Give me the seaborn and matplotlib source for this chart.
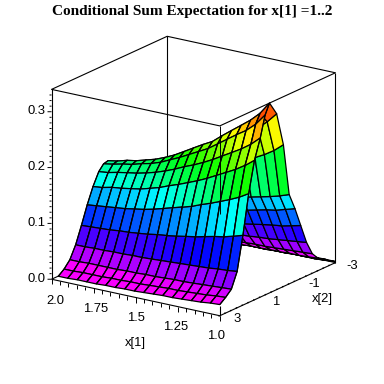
import numpy as np
import matplotlib
matplotlib.use("Agg")
import matplotlib.pyplot as plt
from mpl_toolkits.mplot3d import proj3d
import seaborn as sns

# grid
x1_vals = [1.0, 1.056, 1.113, 1.169, 1.226, 1.282, 1.339, 1.395, 1.452,
           1.508, 1.565, 1.621, 1.678, 1.734, 1.791, 1.847, 1.904, 1.96]
x2_vals = [3.0, 2.7, 2.4, 2.1, 1.8, 1.5, 1.2, 0.9, 0.65, 0.42, 0.05,
           -0.3, -0.6, -0.9, -1.2, -1.5, -1.8, -2.1, -2.4, -2.7, -3.0]

# one row per x[1] value, one column per x[2] value
z_rows = [
    [.020, .028, .038, .065, .125, .195, .250, .285, .322, .340, .315, .254, .160, .130, .095, .060, .035, .022, .014, .008, .002],
    [.019, .027, .037, .063, .120, .185, .237, .270, .302, .318, .297, .240, .154, .125, .091, .058, .034, .021, .013, .008, .002],
    [.017, .025, .036, .062, .115, .177, .226, .258, .287, .302, .282, .229, .149, .120, .087, .056, .033, .020, .013, .007, .002],
    [.016, .024, .035, .060, .112, .170, .217, .248, .276, .289, .270, .220, .145, .117, .085, .054, .032, .020, .013, .007, .002],
    [.015, .023, .034, .059, .108, .163, .208, .238, .264, .276, .258, .211, .141, .113, .082, .052, .031, .019, .012, .007, .002],
    [.014, .022, .033, .058, .104, .157, .199, .228, .252, .263, .246, .202, .137, .109, .079, .051, .030, .019, .012, .007, .002],
    [.014, .022, .033, .057, .101, .150, .191, .219, .240, .249, .234, .192, .133, .106, .076, .049, .030, .018, .011, .006, .001],
    [.013, .021, .032, .056, .098, .145, .184, .211, .231, .240, .225, .186, .130, .103, .074, .048, .029, .018, .011, .006, .001],
    [.012, .020, .031, .055, .095, .140, .177, .204, .222, .230, .216, .179, .127, .100, .072, .047, .028, .017, .011, .006, .001],
    [.011, .019, .031, .054, .093, .135, .171, .196, .213, .220, .207, .172, .124, .098, .070, .046, .028, .017, .010, .006, .001],
    [.011, .019, .030, .053, .090, .130, .164, .189, .205, .210, .198, .165, .121, .095, .068, .044, .027, .017, .010, .006, .001],
    [.010, .018, .030, .053, .088, .126, .159, .183, .197, .202, .191, .159, .119, .093, .066, .043, .027, .016, .010, .005, .001],
    [.010, .018, .029, .052, .086, .123, .154, .178, .191, .195, .185, .155, .117, .091, .065, .043, .026, .016, .010, .005, .001],
    [.009, .017, .029, .052, .085, .120, .151, .174, .187, .190, .180, .151, .115, .090, .064, .042, .026, .016, .010, .005, .001],
    [.009, .017, .029, .051, .083, .118, .148, .171, .182, .185, .176, .148, .114, .088, .062, .041, .026, .015, .009, .005, .001],
    [.009, .017, .029, .051, .082, .116, .146, .168, .179, .182, .173, .146, .113, .087, .062, .041, .026, .015, .009, .005, .001],
    [.008, .016, .028, .050, .081, .114, .142, .164, .175, .177, .168, .142, .111, .086, .061, .040, .025, .015, .009, .005, .001],
    [.008, .016, .028, .050, .080, .112, .140, .162, .172, .174, .165, .140, .110, .085, .060, .040, .025, .015, .009, .005, .001],
]

x1_labels = ["1.0", "1.25", "1.5", "1.75", "2.0"]
x1_label_vals = [1.0, 1.25, 1.5, 1.75, 2.0]
x2_labels = ["3", "1", "-1", "-3"]
x2_label_vals = [3, 1, -1, -3]
z_labels = ["0.0", "0.1", "0.2", "0.3"]
z_label_vals = [0.0, 0.1, 0.2, 0.3]

x1_lo, x1_hi = 1.0, 2.0
x2_lo, x2_hi = -3.0, 3.0
z_lo, z_hi = 0.0, 0.34

sns.set_theme(style="white")
plt.rcParams["font.family"] = ["Liberation Sans", "DejaVu Sans"]

fig = plt.figure(figsize=(3.84, 3.84), dpi=100)
ax = fig.add_axes([-3.7 / 384, 10.8 / 384, 1, 1], projection="3d", computed_zorder=False)
ax.set_proj_type("ortho")
ax.view_init(elev=18.4, azim=124.5)
ax.set_box_aspect((1, 1, 0.98), zoom=0.888)
ax.set_xlim(x1_lo, x1_hi)
ax.set_ylim(x2_lo, x2_hi)
ax.set_zlim(z_lo, z_hi)
ax.set_axis_off()
ax.patch.set_alpha(0)


def line(xs, ys, zs, zo=3, lw=0.8):
    ax.plot(xs, ys, zs, color="black", lw=lw, zorder=zo, solid_capstyle="butt")


def label(x, y, z, s):
    # flat text placed at the projected spot
    px, py, _ = proj3d.proj_transform(x, y, z, ax.get_proj())
    ax.text2D(px, py, s, transform=ax.transData, ha="center", va="center",
              fontsize=9.4, color="black")


# box edges behind the surface
line([x1_hi, x1_hi], [x2_lo, x2_lo], [z_lo, z_hi], zo=1)
line([x1_hi, x1_hi], [x2_lo, x2_hi], [z_lo, z_lo], zo=1)
line([x1_hi, x1_lo], [x2_lo, x2_lo], [z_lo, z_lo], zo=1)

# surface, coloured by height like maple's zhue
X2, X1 = np.meshgrid(x2_vals, x1_vals)
Z = np.array(z_rows)
cell_z = (Z[:-1, :-1] + Z[1:, :-1] + Z[:-1, 1:] + Z[1:, 1:]) / 4
hue = sns.color_palette("hsv", as_cmap=True)
colors = hue(np.minimum(0.84, 0.9 * (1 - cell_z / Z.max())))
ax.plot_surface(X1, X2, Z, facecolors=colors, edgecolor="black", linewidth=0.9,
                rstride=1, cstride=1, shade=False, antialiased=True, zorder=2)

# mesh lines on the front slope get painted over by the next cell, go over them again
for i in range(len(x1_vals)):
    line(X1[i, :10], X2[i, :10], Z[i, :10], zo=2.5, lw=0.75)

# box edges in front
line([x1_hi, x1_lo, x1_lo, x1_hi, x1_hi], [x2_hi, x2_hi, x2_lo, x2_lo, x2_hi], [z_hi] * 5)
line([x1_hi, x1_hi], [x2_hi, x2_hi], [z_lo, z_hi])
line([x1_lo, x1_lo], [x2_lo, x2_lo], [z_lo, z_hi])
line([x1_lo, x1_lo], [x2_hi, x2_hi], [0.182, z_hi], lw=0.7)
line([x1_lo, x1_lo], [x2_hi, x2_hi], [z_lo, 0.018])
line([x1_hi, x1_lo], [x2_hi, x2_hi], [z_lo, z_lo])
line([x1_lo, x1_lo], [x2_hi, x2_lo], [z_lo, z_lo])

# ticks, z axis sticks out left of the corner
for k in range(0, 34):
    z = k * 0.01
    d = 0.024 if k % 10 == 0 else 0.012
    line([x1_hi, x1_hi + d], [x2_hi, x2_hi], [z, z - d * 0.0662], lw=0.7)
for k in range(0, 21):
    v = 1 + k * 0.05
    line([v, v], [x2_hi, x2_hi], [z_lo, -0.009 if k % 5 == 0 else -0.007], lw=0.7)
for k in range(0, 21):
    v = -3 + k * 0.3
    line([x1_lo, x1_lo + 0.008], [v, v], [z_lo, z_lo - 0.001], lw=1.0)

# labels
for v, s in zip(z_label_vals, z_labels):
    label(x1_hi + 0.09, x2_hi, v - 0.005, s)
for v, s in zip(x1_label_vals, x1_labels):
    label(1.5 + (v - 1.5) * 0.96, x2_hi, -0.037, s)
for v, s in zip(x2_label_vals, x2_labels):
    label(x1_lo - 0.1, v, 0.0, s)
label(1.5, x2_hi, -0.081, "x[1]")
label(0.735, 0, 0.0, "x[2]")

fig.text(192 / 384, 1 - 12 / 384, "Conditional Sum Expectation for x[1] =1..2",
         ha="center", va="center", fontsize=11, fontweight="bold",
         family="Liberation Serif", color="black")

fig.savefig("out.png", dpi=100, facecolor="white")
